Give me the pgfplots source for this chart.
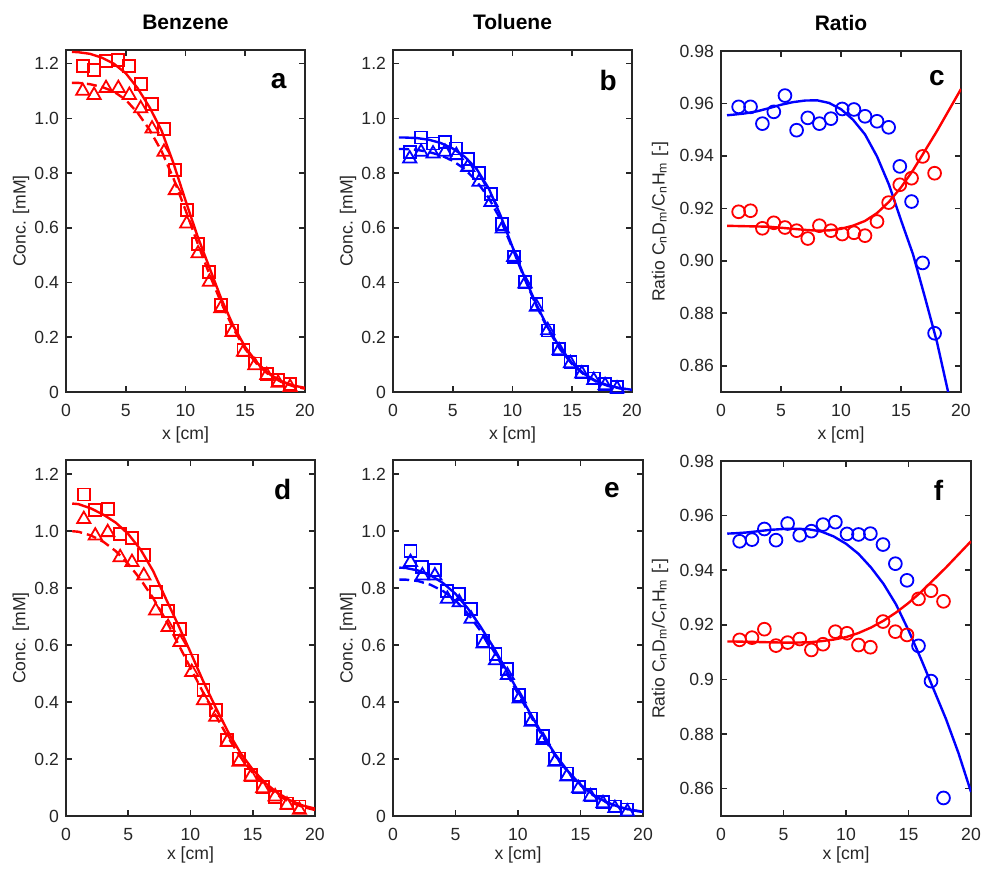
\documentclass[border=0pt]{standalone}
\usepackage{fontspec}
\setmainfont{Liberation Sans}
\usepackage{pgfplots}
\pgfplotsset{compat=1.18}
\usepackage{pgfplotstable}

\definecolor{axgray}{RGB}{38,38,38}
\definecolor{mred}{RGB}{255,0,0}
\definecolor{mblue}{RGB}{0,0,255}

% measured points: x, squares, triangles
\pgfplotstableread{
x sq tr
1.40 1.190 1.100
2.35 1.176 1.085
3.35 1.210 1.110
4.38 1.213 1.110
5.30 1.190 1.085
6.25 1.127 1.036
7.20 1.054 0.962
8.20 0.962 0.877
9.15 0.810 0.737
10.10 0.664 0.615
11.05 0.542 0.506
12.00 0.439 0.402
12.95 0.317 0.305
13.90 0.225 0.219
14.85 0.152 0.146
15.80 0.104 0.097
16.80 0.067 0.061
17.75 0.043 0.033
18.75 0.030 0.018
}\benzA
\pgfplotstableread{
x sq tr
1.40 0.877 0.853
2.35 0.930 0.877
3.35 0.908 0.871
4.35 0.914 0.877
5.30 0.890 0.865
6.25 0.853 0.822
7.20 0.800 0.768
8.20 0.725 0.694
9.15 0.615 0.597
10.10 0.493 0.493
11.05 0.402 0.396
12.00 0.323 0.311
12.95 0.225 0.225
13.90 0.158 0.152
14.85 0.110 0.104
15.80 0.073 0.067
16.80 0.049 0.043
17.75 0.030 0.024
18.75 0.018 0.012
}\tolB
\pgfplotstableread{
x sq tr
1.43 1.129 1.042
2.35 1.074 0.984
3.35 1.077 0.996
4.35 0.990 0.908
5.30 0.976 0.891
6.25 0.917 0.844
7.20 0.786 0.721
8.20 0.721 0.663
9.15 0.657 0.610
10.10 0.546 0.505
11.05 0.441 0.406
12.03 0.371 0.348
12.95 0.266 0.260
13.90 0.202 0.190
14.85 0.144 0.138
15.80 0.103 0.097
16.80 0.068 0.068
17.75 0.044 0.039
18.75 0.033 0.021
}\benzD
\pgfplotstableread{
x sq tr
1.40 0.931 0.891
2.35 0.873 0.844
3.35 0.865 0.844
4.35 0.791 0.762
5.30 0.780 0.750
6.25 0.727 0.692
7.20 0.616 0.605
8.20 0.570 0.546
9.15 0.517 0.494
10.10 0.424 0.412
11.05 0.342 0.330
12.00 0.280 0.266
12.95 0.202 0.190
13.90 0.149 0.138
14.85 0.103 0.097
15.80 0.074 0.068
16.80 0.050 0.044
17.75 0.033 0.027
18.75 0.023 0.015
}\tolE

% ratios: x, blue, red
\pgfplotstableread{
x bl rd
1.47 0.9587 0.9187
2.46 0.9587 0.9191
3.45 0.9523 0.9124
4.40 0.9568 0.9145
5.33 0.9630 0.9127
6.30 0.9498 0.9115
7.23 0.9545 0.9085
8.20 0.9523 0.9134
9.16 0.9542 0.9115
10.10 0.9579 0.9102
11.08 0.9577 0.9107
12.00 0.9551 0.9096
13.00 0.9532 0.9150
13.97 0.9509 0.9222
14.90 0.9360 0.9290
15.88 0.9226 0.9315
16.80 0.8992 0.9398
17.80 0.8724 0.9334
}\ratC
\pgfplotstableread{
x bl rd
1.49 0.9506 0.9145
2.48 0.9512 0.9153
3.47 0.9551 0.9184
4.40 0.9510 0.9124
5.33 0.9571 0.9135
6.30 0.9528 0.9148
7.23 0.9543 0.9108
8.16 0.9567 0.9129
9.15 0.9576 0.9175
10.08 0.9533 0.9169
11.00 0.9531 0.9126
11.95 0.9534 0.9118
12.96 0.9494 0.9212
13.95 0.9424 0.9175
14.88 0.9363 0.9163
15.80 0.9123 0.9295
16.80 0.8994 0.9325
17.80 0.8566 0.9286
}\ratF

% fitted curves
\pgfplotstableread{
x aS aD bS bD cB cR
0.5 1.243 1.130 0.930 0.888 0.9555 0.9133
1 1.242 1.130 0.930 0.888 0.9557 0.9133
2 1.236 1.125 0.928 0.885 0.9562 0.9132
3 1.222 1.115 0.922 0.877 0.9570 0.9131
4 1.200 1.098 0.910 0.865 0.9582 0.9130
5 1.165 1.068 0.890 0.845 0.9595 0.9126
6 1.110 1.020 0.860 0.815 0.9605 0.9122
7 1.040 0.958 0.815 0.770 0.9611 0.9118
8 0.955 0.880 0.745 0.710 0.9612 0.9115
9 0.835 0.780 0.645 0.630 0.9602 0.9116
10 0.700 0.665 0.530 0.525 0.9578 0.9122
11 0.570 0.545 0.420 0.415 0.9538 0.9134
12 0.455 0.430 0.320 0.315 0.9482 0.9152
13 0.340 0.325 0.232 0.227 0.9398 0.9182
14 0.242 0.232 0.160 0.155 0.9290 0.9225
15 0.164 0.157 0.105 0.101 0.9155 0.9280
16 0.106 0.101 0.066 0.063 0.9025 0.9345
17 0.066 0.062 0.040 0.038 0.8860 0.9420
18 0.040 0.037 0.024 0.022 0.8690 0.9495
19 0.024 0.021 0.014 0.013 0.8485 0.9575
20 0.015 0.012 0.008 0.007 0.8260 0.9655
}\fitTop
\pgfplotstableread{
x dS dD eS eD fB fR
0.5 1.097 1.000 0.872 0.830 0.9534 0.9139
1 1.095 0.998 0.871 0.830 0.9535 0.9139
2 1.080 0.985 0.862 0.825 0.9538 0.9138
3 1.058 0.963 0.845 0.812 0.9543 0.9137
4 1.030 0.930 0.818 0.790 0.9548 0.9136
5 0.990 0.885 0.780 0.757 0.9551 0.9135
6 0.935 0.830 0.728 0.710 0.9552 0.9135
7 0.860 0.765 0.665 0.650 0.9550 0.9136
8 0.765 0.690 0.595 0.583 0.9542 0.9140
9 0.672 0.605 0.518 0.508 0.9524 0.9146
10 0.575 0.520 0.438 0.430 0.9497 0.9155
11 0.475 0.435 0.358 0.352 0.9460 0.9170
12 0.383 0.355 0.283 0.278 0.9410 0.9190
13 0.297 0.277 0.215 0.211 0.9350 0.9215
14 0.222 0.208 0.157 0.154 0.9275 0.9245
15 0.163 0.151 0.110 0.108 0.9180 0.9280
16 0.116 0.106 0.075 0.073 0.9075 0.9320
17 0.081 0.073 0.050 0.049 0.8965 0.9365
18 0.055 0.049 0.033 0.032 0.8855 0.9410
19 0.037 0.032 0.022 0.021 0.8730 0.9458
20 0.026 0.021 0.015 0.014 0.8588 0.9506
}\fitBot

\tikzset{letter/.style={font=\bfseries\fontsize{14}{16}\selectfont}}

\pgfplotsset{
  panel/.style={
    scale only axis, xmin=0, xmax=20, xtick={0,5,10,15,20},
    tick align=inside, major tick length=3pt,
    axis line style={draw=axgray, line width=1.3pt},
    tick style={draw=axgray, line width=0.8pt},
    /pgf/number format/assume math mode=true,
    tick label style={font=\fontsize{8.8}{10}\selectfont, text=axgray},
    xticklabel style={yshift=-2.5pt},
    label style={font=\fontsize{8.8}{10}\selectfont, text=axgray},
    xlabel={x [cm]},
    title style={font=\bfseries\fontsize{10.5}{12}\selectfont, anchor=center,
      at={(axis description cs:0.5,1)}, yshift=8pt},
  },
  conc/.style={panel, ymin=0, ymax=1.25,
    ytick={0,0.2,0.4,0.6,0.8,1.0,1.2},
    yticklabels={0,0.2,0.4,0.6,0.8,1.0,1.2},
    ylabel={Conc. [mM]}},
  ratio/.style={panel, ymin=0.85, ymax=0.98,
    ytick={0.86,0.88,0.90,0.92,0.94,0.96,0.98},
    ylabel={Ratio C\textsubscript{n}D\textsubscript{m}/C\textsubscript{n}H\textsubscript{m} [-]}},
  fitline/.style={line width=1.2pt, no marks, draw=#1},
  fitdash/.style={line width=1.2pt, no marks, draw=#1, dash pattern=on 5pt off 2.5pt},
  sqm/.style={only marks, mark=square, mark size=3pt, color=#1,
    mark options={line width=0.9pt, solid, draw=#1, fill=none}},
  trm/.style={only marks, mark=triangle, mark size=3.8pt, color=#1,
    mark options={line width=0.9pt, solid, draw=#1, fill=none}},
  cim/.style={only marks, mark=o, mark size=3.2pt, color=#1,
    mark options={line width=0.9pt, solid, draw=#1, fill=none}},
}

\begin{document}
\begin{tikzpicture}
\useasboundingbox (0,0) rectangle (490.5pt,435pt);

% ---- a: Benzene
\begin{axis}[conc, at={(33pt,239pt)}, anchor=south west, width=119.5pt, height=171pt,
  title={Benzene},
  ylabel style={at={(axis description cs:-0.188,0.5)}, anchor=center},
  xlabel style={at={(axis description cs:0.5,-0.126)}, anchor=center}]
\addplot[fitline=mred] table[x=x, y=aS] {\fitTop};
\addplot[fitdash=mred] table[x=x, y=aD] {\fitTop};
\addplot[sqm=mred] table[x=x, y=sq] {\benzA};
\addplot[trm=mred] table[x=x, y=tr] {\benzA};
\node[letter] at (rel axis cs:0.89,0.91) {a};
\end{axis}

% ---- b: Toluene
\begin{axis}[conc, at={(196.5pt,239pt)}, anchor=south west, width=119.5pt, height=171pt,
  title={Toluene},
  ylabel style={at={(axis description cs:-0.188,0.5)}, anchor=center},
  xlabel style={at={(axis description cs:0.5,-0.126)}, anchor=center}]
\addplot[fitline=mblue] table[x=x, y=bS] {\fitTop};
\addplot[fitdash=mblue] table[x=x, y=bD] {\fitTop};
\addplot[sqm=mblue] table[x=x, y=sq] {\tolB};
\addplot[trm=mblue] table[x=x, y=tr] {\tolB};
\node[letter] at (rel axis cs:0.90,0.91) {b};
\end{axis}

% ---- c: Ratio
\begin{axis}[ratio, at={(360.5pt,239pt)}, anchor=south west, width=120pt, height=170.5pt,
  title={Ratio},
  yticklabels={0.86,0.88,0.90,0.92,0.94,0.96,0.98},
  ylabel style={at={(axis description cs:-0.254,0.5)}, anchor=center},
  xlabel style={at={(axis description cs:0.5,-0.126)}, anchor=center}]
\addplot[fitline=mblue] table[x=x, y=cB] {\fitTop};
\addplot[fitline=mred] table[x=x, y=cR] {\fitTop};
\addplot[cim=mblue] table[x=x, y=bl] {\ratC};
\addplot[cim=mred] table[x=x, y=rd] {\ratC};
\node[letter] at (rel axis cs:0.90,0.92) {c};
\end{axis}

% ---- d
\begin{axis}[conc, at={(33pt,27pt)}, anchor=south west, width=124.5pt, height=178pt,
  ylabel style={at={(axis description cs:-0.181,0.5)}, anchor=center},
  xlabel style={at={(axis description cs:0.5,-0.11)}, anchor=center}]
\addplot[fitline=mred] table[x=x, y=dS] {\fitBot};
\addplot[fitdash=mred] table[x=x, y=dD] {\fitBot};
\addplot[sqm=mred] table[x=x, y=sq] {\benzD};
\addplot[trm=mred] table[x=x, y=tr] {\benzD};
\node[letter] at (rel axis cs:0.87,0.916) {d};
\end{axis}

% ---- e
\begin{axis}[conc, at={(196.5pt,27pt)}, anchor=south west, width=125pt, height=178pt,
  ylabel style={at={(axis description cs:-0.18,0.5)}, anchor=center},
  xlabel style={at={(axis description cs:0.5,-0.11)}, anchor=center}]
\addplot[fitline=mblue] table[x=x, y=eS] {\fitBot};
\addplot[fitdash=mblue] table[x=x, y=eD] {\fitBot};
\addplot[sqm=mblue] table[x=x, y=sq] {\tolE};
\addplot[trm=mblue] table[x=x, y=tr] {\tolE};
\node[letter] at (rel axis cs:0.876,0.916) {e};
\end{axis}

% ---- f
\begin{axis}[ratio, at={(360.5pt,27pt)}, anchor=south west, width=125pt, height=177.5pt,
  yticklabels={0.86,0.88,0.9,0.92,0.94,0.96,0.98},
  ylabel style={at={(axis description cs:-0.244,0.5)}, anchor=center},
  xlabel style={at={(axis description cs:0.5,-0.11)}, anchor=center}]
\addplot[fitline=mblue] table[x=x, y=fB] {\fitBot};
\addplot[fitline=mred] table[x=x, y=fR] {\fitBot};
\addplot[cim=mblue] table[x=x, y=bl] {\ratF};
\addplot[cim=mred] table[x=x, y=rd] {\ratF};
\node[letter] at (rel axis cs:0.87,0.916) {f};
\end{axis}
\end{tikzpicture}
\end{document}
